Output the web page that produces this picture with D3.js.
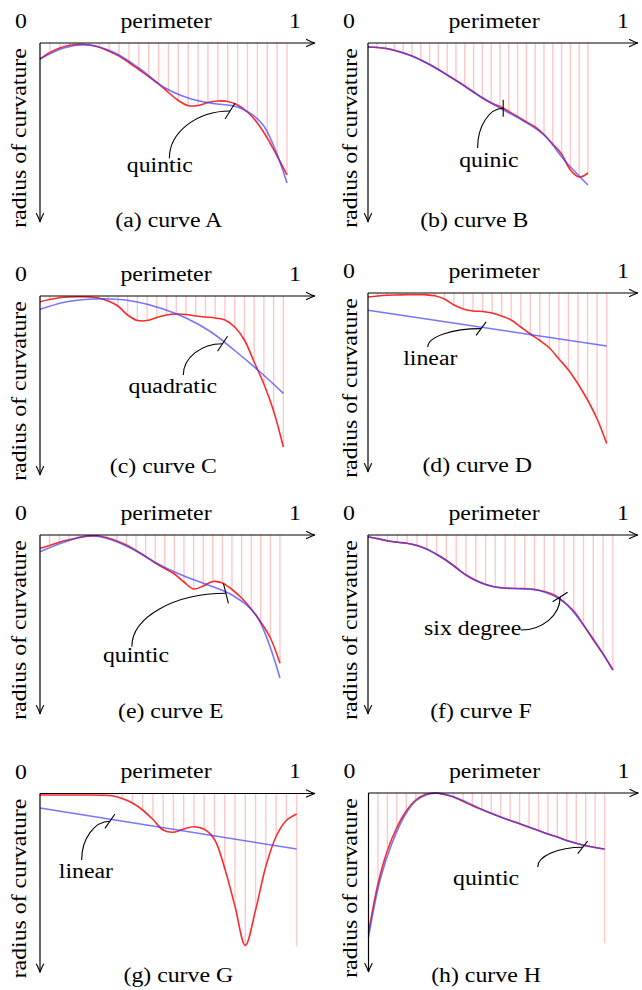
<!DOCTYPE html>
<html>
<head>
<meta charset="utf-8">
<script src="https://cdn.jsdelivr.net/npm/d3@7"></script>
<style>
  html, body { margin: 0; padding: 0; background: #fff; }
  svg { display: block; }
</style>
</head>
<body>
<script>
const width = 642;
const height = 990;

// ---- data -------------------------------------------------------------
const curveNames = ['A', 'B', 'C', 'D', 'E', 'F', 'G', 'H'];
const subLetters = ['a', 'b', 'c', 'd', 'e', 'f', 'g', 'h'];
const fitNames = ['quintic', 'quinic', 'quadratic', 'linear', 'quintic', 'six degree', 'linear', 'quintic'];

// where the sampled perimeter stops, as a fraction of the 0..1 axis
const perimeterEnd = [0.95, 0.846, 0.936, 0.918, 0.923, 0.942, 0.987, 0.908];

// measured radius of curvature, 26 evenly spaced samples (a.u., drawn downwards)
const redA = [16, 9.5, 5, 2.3, 1.3, 2, 4.2, 8.3, 13, 19.5, 26.5, 33.5, 41, 49.5, 57.5, 62.7, 62.5, 59.5, 58, 58.5, 62, 69, 80, 95, 113, 132];
const redB = [4, 4.5, 5.5, 7.5, 10, 13, 17, 21.5, 26.5, 32, 37.5, 43, 49, 55, 60, 63.5, 68.5, 73.5, 79, 84, 91.5, 101, 111, 127, 134, 130];
const redC = [5.7, 3.5, 1.8, 1, 0.8, 1, 2, 5, 10, 19, 24.5, 24.5, 21.5, 19, 18, 18.5, 20, 21, 22, 24, 31, 44, 66, 88, 115, 151];
const redD = [4, 3, 2.3, 2, 1.8, 1.7, 1.8, 2.8, 6, 12, 16, 18, 18.5, 20, 23, 27, 34, 41, 47.5, 55, 66, 77, 91, 107, 126, 150.6];
const redE = [13.3, 10.5, 7.3, 4.8, 2.7, 1.2, 0.8, 2.8, 6, 10, 15.5, 21.5, 28, 33.5, 39, 47, 54, 51, 46.5, 48, 54.5, 63, 74, 87, 103, 128.3];
const redF = [1.7, 3.8, 6, 7.3, 8.3, 10.5, 14, 19.5, 25.5, 32.5, 40, 45.5, 49.5, 52, 53.3, 53.5, 53.5, 54.5, 56.5, 60, 67, 76, 90, 105, 119, 135];
const redG = [1.5, 1.5, 1.5, 1.5, 1.5, 1.5, 1.7, 2.3, 5, 9.5, 16.5, 26, 36.5, 38.8, 35.5, 33.3, 35.8, 46, 75, 113, 152, 116.5, 73, 43, 27, 20.5];
const redH = [140, 91, 57.5, 34.5, 18, 7, 1.5, 0, 1.5, 4, 8.3, 12.8, 16.5, 20.3, 24, 27.5, 30.8, 34.2, 37.5, 41, 44, 47.5, 50.3, 52.7, 54.5, 56];

// polynomial fits, evenly spaced over the same perimeter span
const blueA = [16, 4.7, 2, 9.5, 25, 44, 55, 60.5, 64, 81, 140];
const blueB = [4, 6, 13, 24, 37.5, 52, 65, 77, 92, 119, 142];
const blueC = [13.3, 6.2, 3.2, 3, 6, 12.5, 22, 35.5, 54.5, 75, 97.3];
const blueD = [17.3, 53];
const blueE = [16.7, 7.3, 0.8, 5, 16, 30, 41, 50, 60, 80, 143];
const blueF = [1.7, 6.5, 10.5, 22, 40, 51, 53.5, 55.5, 67, 97, 135];
const blueG = [14.5, 55.5];
const blueH = [144, 86, 50, 24, 8, 1.5, 0.3, 3, 7.5, 13, 18.5, 23.3, 27.5, 31.5, 35.7, 40.2, 44, 48.3, 51.5, 54, 56];

// the last hatch line runs longer in G and H
const lastStem = [null, null, null, null, null, null, 153, 150];

// where each fit label points: perimeter fraction and radius
const pointAt = [[0.731, 68], [0.52, 65.3], [0.702, 47.7], [0.435, 35.6], [0.715, 58.3], [0.739, 62], [0.269, 27.7], [0.824, 54.3]];

const redSeries = [redA, redB, redC, redD, redE, redF, redG, redH];
const blueSeries = [blueA, blueB, blueC, blueD, blueE, blueF, blueG, blueH];

// ---- layout -----------------------------------------------------------
const FONT = '"Liberation Serif", "DejaVu Serif", "Times New Roman", Times, serif';
const STRETCH = 1.19;
const layout = [
  { ox: 40, oy: 43, len: 275, capX: 168.8, capY: 227, ylab: -14 },
  { ox: 368, oy: 43, len: 270, capX: 474.3, capY: 226.7, ylab: -11.5 },
  { ox: 40, oy: 296, len: 275, capX: 163.3, capY: 472.7, ylab: -14 },
  { ox: 368, oy: 293, len: 270, capX: 477.2, capY: 471.7, ylab: -11.5 },
  { ox: 40, oy: 535, len: 275, capX: 170.8, capY: 717.7, ylab: -14 },
  { ox: 368, oy: 535, len: 270, capX: 481, capY: 717.7, ylab: -11.5 },
  { ox: 40, oy: 793.5, len: 275, capX: 178.3, capY: 981.7, ylab: -14 },
  { ox: 368.5, oy: 793, len: 270, capX: 486, capY: 981.7, ylab: -11.5 }
];
// label offset (lx, ly), connector start (sx, sy) relative to the pointed spot, tick half-vector
const notes = [
  { lx: -70.3, ly: 60.7, sx: -60.7, sy: 47.3, tick: [5, -8], bend: 'v' },
  { lx: -14.3, ly: 58.4, sx: -25.6, sy: 39.7, tick: [0, -8.5], bend: 'v' },
  { lx: -49.7, ly: 49.6, sx: -39.2, sy: 31.3, tick: [5, -7.5], bend: 'v' },
  { lx: -50.8, ly: 36.7, sx: -53.3, sy: 18.4, tick: [5, -6.7], bend: 'v' },
  { lx: -90, ly: 68.4, sx: -94.1, sy: 53.4, tick: [-2.5, -10], bend: 'v' },
  { lx: -87.5, ly: 38, sx: -39.2, sy: 33, tick: [7.5, -4.7], bend: 'h' },
  { lx: -24, ly: 57.1, sx: -28.3, sy: 38.8, tick: [5, -7.2], bend: 'v' },
  { lx: -96.7, ly: 38, sx: -45, sy: 19.7, tick: [5, -6.3], bend: 'v' }
];

const svg = d3.select('body').append('svg').attr('width', width).attr('height', height);

curveNames.forEach((name, i) => drawPanel(i));

function drawPanel(i) {
  const lay = layout[i];
  const end = perimeterEnd[i];
  const g = svg.append('g');

  const x = d3.scaleLinear().domain([0, 1]).range([lay.ox, lay.ox + 260]);
  const y = d3.scaleLinear().domain([0, 180]).range([lay.oy, lay.oy + 180]);

  const red = redSeries[i].map((v, k, a) => [end * k / (a.length - 1), v]);
  const blue = blueSeries[i].map((v, k, a) => [end * k / (a.length - 1), v]);

  const line = d3.line()
    .x(d => x(d[0]))
    .y(d => y(d[1]))
    .curve(d3.curveCatmullRom.alpha(0.5));

  // hatch lines from the axis down to the samples
  const stems = red.slice(1);
  g.selectAll('line.stem')
    .data(stems)
    .join('line')
    .attr('class', 'stem')
    .attr('x1', d => x(d[0]))
    .attr('x2', d => x(d[0]))
    .attr('y1', y(0))
    .attr('y2', (d, k) => y(k === stems.length - 1 && lastStem[i] != null ? lastStem[i] : d[1]))
    .attr('stroke', '#ff0000')
    .attr('stroke-opacity', 0.22)
    .attr('stroke-width', 1.4);

  g.append('path').attr('d', line(red))
    .attr('fill', 'none').attr('stroke', '#ff2a2a').attr('stroke-width', 1.6);
  g.append('path').attr('d', line(blue))
    .attr('fill', 'none').attr('stroke', '#3c3cff').attr('stroke-opacity', 0.7).attr('stroke-width', 1.6);

  // axes with arrow tips
  const ax = lay.ox, ay = lay.oy;
  g.append('line').attr('x1', ax).attr('y1', ay).attr('x2', ax + lay.len - 0.5).attr('y2', ay)
    .attr('stroke', '#000').attr('stroke-width', 1.2);
  g.append('line').attr('x1', ax).attr('y1', ay).attr('x2', ax).attr('y2', ay + 178.5)
    .attr('stroke', '#000').attr('stroke-width', 1.2);
  arrowHead(g, ax + lay.len, ay, 0);
  arrowHead(g, ax, ay + 179, 90);

  // texts
  addText(g, '0', ax - 19, ay - 15);
  addText(g, 'perimeter', ax + 126, ay - 15.5);
  addText(g, '1', ax + 255, ay - 15.5);
  addText(g, 'radius of curvature', ax + lay.ylab, ay + 95, true);
  addText(g, `(${subLetters[i]}) curve ${curveNames[i]}`, lay.capX, lay.capY);

  // fit label with a bent pointer
  const n = notes[i];
  const px = x(pointAt[i][0]), py = y(pointAt[i][1]);
  addText(g, fitNames[i], px + n.lx, py + n.ly);
  const sx = px + n.sx, sy = py + n.sy;
  const dx = px - sx, dy = sy - py;
  const p = d3.path();
  p.moveTo(sx, sy);
  if (n.bend === 'v') {
    p.bezierCurveTo(sx, sy - 0.55 * dy, px - 0.55 * dx, py, px, py);
  } else {
    p.bezierCurveTo(sx + 0.55 * dx, sy, px, py + 0.55 * dy, px, py);
  }
  g.append('path').attr('d', p.toString())
    .attr('fill', 'none').attr('stroke', '#000').attr('stroke-width', 1.1);
  g.append('line')
    .attr('x1', px - n.tick[0]).attr('y1', py - n.tick[1])
    .attr('x2', px + n.tick[0]).attr('y2', py + n.tick[1])
    .attr('stroke', '#000').attr('stroke-width', 1.1);
}

function addText(g, str, cx, cy, vertical) {
  g.append('text')
    .attr('transform', `translate(${cx},${cy})${vertical ? ' rotate(-90)' : ''} scale(${STRETCH},1)`)
    .attr('text-anchor', 'middle')
    .attr('font-family', FONT)
    .attr('font-size', 20)
    .attr('fill', '#000')
    .text(str);
}

function arrowHead(g, tx, ty, angle) {
  g.append('path')
    .attr('transform', `translate(${tx},${ty}) rotate(${angle})`)
    .attr('d', 'M-8.5,-3.6 Q-2.5,-0.6 0,0 Q-2.5,0.6 -8.5,3.6')
    .attr('fill', 'none')
    .attr('stroke', '#000')
    .attr('stroke-width', 1.1)
    .attr('stroke-linecap', 'round');
}
</script>
</body>
</html>
